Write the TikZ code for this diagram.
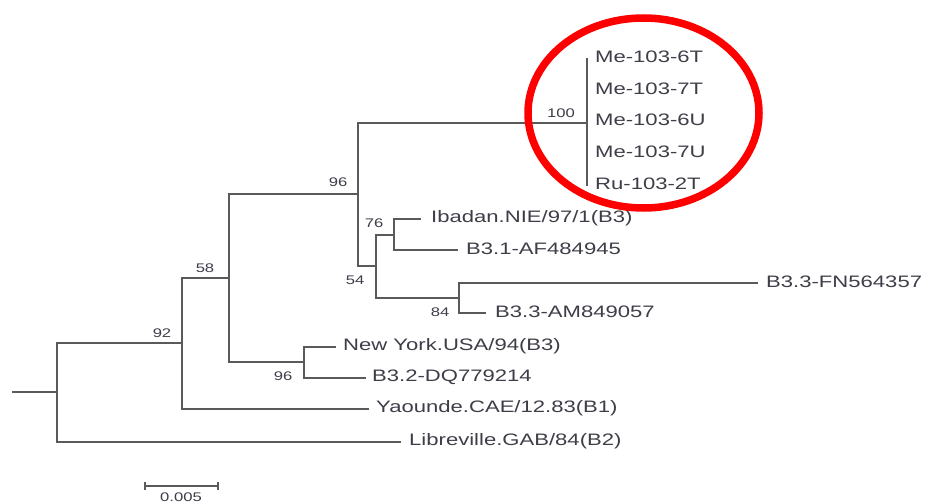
\documentclass[tikz,border=0pt]{standalone}
\usepackage{fontspec}
\setmainfont{Liberation Sans}
\definecolor{branch}{HTML}{5A5A5A}
\definecolor{labc}{HTML}{403C48}
\newcommand{\hs}[1]{\scalebox{1.33}[1]{#1}}
\begin{document}
\begin{tikzpicture}[x=1pt,y=-1pt,
  br/.style={draw=branch,line width=1.9pt,line cap=rect},
  leaf/.style={anchor=west,inner sep=0pt,text=labc,font=\fontsize{16.6}{18}\selectfont},
  boot/.style={inner sep=0pt,text=labc,font=\fontsize{12.5}{14}\selectfont}]
\useasboundingbox (0,0) rectangle (927,503);
% internal nodes
\coordinate (r0) at (13,392);
\coordinate (nA) at (57,392);
\coordinate (nB) at (182,343);
\coordinate (nC) at (229,278);
\coordinate (nD) at (304,362);
\coordinate (nE) at (358,194);
\coordinate (nF) at (376,266);
\coordinate (nG) at (394,235);
\coordinate (nH) at (459,298);
\coordinate (n100) at (587,123);
\coordinate (t100) at (587,59);
\coordinate (b100) at (587,185);
% leaf ends
\coordinate (libE) at (400,442);
\coordinate (yaoE) at (368,409);
\coordinate (nyE) at (335,347);
\coordinate (b32E) at (365,378);
\coordinate (ibE) at (420,219);
\coordinate (b31E) at (457,250);
\coordinate (fnE) at (757,283);
\coordinate (amE) at (485,313);
% branches
\draw[br] (r0) -- (nA);
\draw[br] (nA) |- (nB);
\draw[br] (nA) |- (libE);
\draw[br] (nB) |- (nC);
\draw[br] (nB) |- (yaoE);
\draw[br] (nC) |- (nE);
\draw[br] (nC) |- (nD);
\draw[br] (nD) |- (nyE);
\draw[br] (nD) |- (b32E);
\draw[br] (nE) |- (n100);
\draw[br] (nE) |- (nF);
\draw[br] (nF) |- (nG);
\draw[br] (nF) |- (nH);
\draw[br] (nG) |- (ibE);
\draw[br] (nG) |- (b31E);
\draw[br] (nH) |- (fnE);
\draw[br] (nH) |- (amE);
\draw[br] (t100) -- (b100);
% leaf labels
\node[leaf] (l1) at (595,57) {\hs{Me-103-6T}};
\node[leaf] (l2) at (595,89) {\hs{Me-103-7T}};
\node[leaf] (l3) at (595,120) {\hs{Me-103-6U}};
\node[leaf] (l4) at (595,152) {\hs{Me-103-7U}};
\node[leaf] (l5) at (595,184) {\hs{Ru-103-2T}};
\node[leaf] (lib) at (409,441) {\hs{Libreville.GAB/84(B2)}};
\node[leaf] (yao) at (376,408) {\hs{Yaounde.CAE/12.83(B1)}};
\node[leaf] (ny) at (343,346) {\hs{New York.USA/94(B3)}};
\node[leaf] (b32) at (372,377) {\hs{B3.2-DQ779214}};
\node[leaf] (ib) at (431,218) {\hs{Ibadan.NIE/97/1(B3)}};
\node[leaf] (b31) at (466,249) {\hs{B3.1-AF484945}};
\node[leaf] (fn) at (766,282) {\hs{B3.3-FN564357}};
\node[leaf] (am) at (495,312) {\hs{B3.3-AM849057}};
% bootstrap values
\node[boot] (bs100) at (561,113) {\hs{100}};
\node[boot] (bsE) at (338,182) {\hs{96}};
\node[boot] (bsC) at (205,268) {\hs{58}};
\node[boot] (bsB) at (162,333) {\hs{92}};
\node[boot] (bsD) at (283,376) {\hs{96}};
\node[boot] (bsG) at (374,223) {\hs{76}};
\node[boot] (bsF) at (355,280) {\hs{54}};
\node[boot] (bsH) at (440,312) {\hs{84}};
% scale bar
\coordinate (s1) at (145,486);
\coordinate (s2) at (218,486);
\draw[br,line cap=butt] (s1) -- (s2);
\draw[br,line cap=butt] ([yshift=-4]s1) -- ([yshift=4]s1);
\draw[br,line cap=butt] ([yshift=-4]s2) -- ([yshift=4]s2);
\node[boot] (sl) at (181,497) {\hs{0.005}};
% red ellipse
\draw[red,line width=7.5pt] (643.5,113) ellipse [x radius=115.5,y radius=95];
\end{tikzpicture}
\end{document}
